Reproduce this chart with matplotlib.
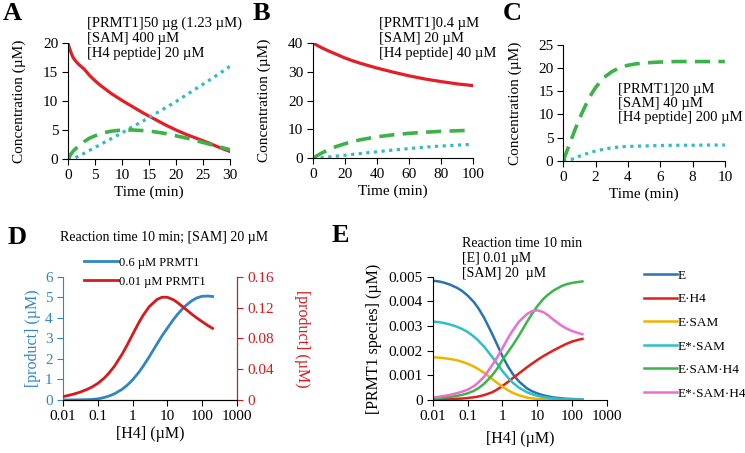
import numpy as np
import matplotlib
matplotlib.use("Agg")
import matplotlib.pyplot as plt
from matplotlib.ticker import FixedLocator, FixedFormatter

plt.rcParams['font.family'] = ['Liberation Serif', 'DejaVu Serif']

# ── Panel A ─────────────────────────────────────────────────────────
a_t = [0, 0.25, 0.5, 0.75, 1, 1.5, 2, 2.5, 3, 4, 5, 6, 7, 8, 9, 10, 12, 14, 16, 18, 20,
       22, 24, 26, 28, 30]
a_red = [20, 19.2, 18.5, 17.9, 17.4, 16.8, 16.3, 15.9, 15.5, 14.4, 13.5, 12.7, 12.0, 11.3,
         10.7, 10.1, 9.0, 7.9, 6.9, 5.9, 5.0, 4.2, 3.5, 2.8, 2.0, 1.3]
a_t_g = [0, 0.5, 1, 2, 3, 4, 5, 6, 8, 10, 12, 14, 16, 18, 20, 22, 24, 26, 28, 30]
a_green = [0, 0.8, 1.4, 2.3, 3.0, 3.6, 4.0, 4.4, 4.8, 5.0, 5.0, 4.9, 4.7, 4.4, 4.0, 3.6,
           3.1, 2.6, 2.1, 1.6]
a_t_c = [0, 1, 2, 4, 6, 8, 10, 12, 14, 16, 18, 20, 22, 24, 26, 28, 30]
a_cyan = [0, 0.05, 0.5, 1.5, 2.5, 3.5, 4.5, 5.6, 6.6, 7.7, 8.8, 9.9, 11.1, 12.3, 13.5, 14.7, 16.0]

# ── Panel B ─────────────────────────────────────────────────────────
b_t = [0, 5, 10, 15, 20, 25, 30, 40, 50, 60, 70, 80, 90, 100]
b_red = [40, 38.5, 37.2, 36.0, 34.8, 33.8, 32.9, 31.3, 29.9, 28.6, 27.5, 26.6, 25.8, 25.2]
b_green = [0, 1.6, 3.0, 4.1, 5.0, 5.8, 6.4, 7.4, 8.1, 8.6, 9.0, 9.3, 9.5, 9.7]
b_cyan = [0, 0.15, 0.4, 0.7, 1.0, 1.3, 1.6, 2.2, 2.8, 3.3, 3.8, 4.2, 4.5, 4.8]

# ── Panel C ─────────────────────────────────────────────────────────
c_t = [0, 0.25, 0.5, 0.75, 1, 1.25, 1.5, 1.75, 2, 2.5, 3, 3.5, 4, 4.5, 5, 6, 7, 8, 9, 10]
c_green = [0, 2.3, 4.6, 6.9, 9.0, 11.0, 12.8, 14.4, 15.8, 17.9, 19.2, 20.1, 20.6, 20.9,
           21.1, 21.3, 21.4, 21.4, 21.4, 21.4]
c_cyan = [0, 0.1, 0.3, 0.6, 1.0, 1.3, 1.6, 1.9, 2.1, 2.5, 2.8, 3.0, 3.1, 3.15, 3.2, 3.3,
          3.35, 3.35, 3.4, 3.4]

# ── Panel D ─────────────────────────────────────────────────────────
h4 = [0.01, 0.015, 0.02, 0.03, 0.05, 0.07, 0.1, 0.15, 0.2, 0.3, 0.5, 0.7, 1, 1.5, 2, 3, 5,
      7, 10, 15, 20, 30, 50, 70, 100, 150, 200]
d_blue = [0, 0.002, 0.004, 0.008, 0.018, 0.03, 0.057, 0.12, 0.18, 0.30, 0.52, 0.72, 0.98,
          1.34, 1.64, 2.10, 2.72, 3.12, 3.5, 3.92, 4.19, 4.52, 4.83, 4.97, 5.05, 5.06, 5.04]
d_red = [0.0043, 0.0062, 0.0076, 0.0100, 0.0139, 0.0172, 0.0216, 0.0281, 0.0339, 0.0438,
         0.0595, 0.0715, 0.0851, 0.1002, 0.1099, 0.1211, 0.1305, 0.1334, 0.1334, 0.1301,
         0.1262, 0.1198, 0.1116, 0.1066, 0.1017, 0.0964, 0.0930]
d_labels = ["0.6 µM PRMT1", "0.01 µM PRMT1"]

# ── Panel E ─────────────────────────────────────────────────────────
e_E = [0.00484, 0.00481, 0.00477, 0.00469, 0.00455, 0.00442, 0.00424, 0.00398, 0.00374,
       0.00333, 0.0027, 0.00226, 0.00178, 0.00132, 0.00105, 0.00075, 0.00048, 0.00036,
       0.00027, 0.00019, 0.00015, 0.0001, 0.00007, 0.00005, 0.00004, 0.00003, 0.00002]
e_EH4 = [0.00002, 0.000025, 0.00003, 0.00004, 0.00005, 0.00006, 0.00008, 0.00011, 0.00014,
         0.0002, 0.00031, 0.00042, 0.00057, 0.00075, 0.00089, 0.00108, 0.00132, 0.00147,
         0.00162, 0.00178, 0.00188, 0.00202, 0.00218, 0.00228, 0.00237, 0.00244, 0.00248]
e_ESAM = [0.00173, 0.00172, 0.0017, 0.00167, 0.00161, 0.00155, 0.00147, 0.00136, 0.00126,
          0.0011, 0.00086, 0.0007, 0.00054, 0.00038, 0.00029, 0.00019, 0.0001, 0.00007,
          0.00004, 0.00003, 0.00002, 0.00001, 0.00001, 0, 0, 0, 0]
e_EsSAM = [0.00318, 0.00316, 0.00313, 0.00307, 0.00297, 0.00288, 0.00276, 0.00258, 0.00242,
           0.00216, 0.00176, 0.00148, 0.00118, 0.00088, 0.0007, 0.0005, 0.00032, 0.00024,
           0.00017, 0.00012, 0.00009, 0.00006, 0.00004, 0.00003, 0.00002, 0.00002, 0.00001]
e_ESAMH4 = [0.00007, 0.00008, 0.0001, 0.00012, 0.00017, 0.00021, 0.00027, 0.00037, 0.00047,
            0.00066, 0.00099, 0.00126, 0.00162, 0.00198, 0.00223, 0.00262, 0.00315, 0.00348,
            0.0038, 0.0041, 0.00426, 0.00445, 0.00462, 0.0047, 0.00475, 0.00479, 0.00481]
e_EsSAMH4 = [0.0001, 0.00013, 0.00016, 0.0002, 0.00028, 0.00034, 0.00042, 0.00056, 0.0007,
             0.00095, 0.0014, 0.00172, 0.0021, 0.00255, 0.00283, 0.00318, 0.00348, 0.0036,
             0.00364, 0.00357, 0.00345, 0.00325, 0.00302, 0.0029, 0.0028, 0.00272, 0.00267]
e_names = ["E", "E·H4", "E·SAM", "E*·SAM", "E·SAM·H4", "E*·SAM·H4"]
e_colors = ["#2a72b0", "#e0201b", "#f0b400", "#2cc0c9", "#3bb44a", "#ea6fd2"]

RED = "#e41e26"
GREEN = "#3cb34a"
CYAN = "#33bbc5"
D_BLUE = "#2f86c0"
D_RED = "#d7191c"

log_ticks = [0.01, 0.1, 1, 10, 100, 1000]
log_labels = ["0.01", "0.1", "1", "10", "100", "1000"]

fig = plt.figure(figsize=(7.45, 4.53), dpi=100, facecolor="white")


def style(ax, fs=11):
    for s in ("top", "right"):
        ax.spines[s].set_visible(False)
    ax.tick_params(direction="out", length=4, labelsize=fs, pad=3)


def log_x(ax):
    ax.set_xscale("log")
    ax.set_xlim(0.01, 1000)
    ax.xaxis.set_major_locator(FixedLocator(log_ticks))
    ax.xaxis.set_major_formatter(FixedFormatter(log_labels))
    ax.xaxis.set_minor_locator(FixedLocator([]))


def top_panel(rect, xlim, xticks, ylim, yticks):
    ax = fig.add_axes(rect)
    style(ax)
    ax.set_xlim(*xlim)
    ax.set_ylim(*ylim)
    ax.set_xticks(xticks)
    ax.set_yticks(yticks)
    ax.set_xlabel("Time (min)", fontsize=11, labelpad=3)
    ax.set_ylabel("Concentration (µM)", fontsize=11, labelpad=12)
    return ax


dash = (0, (4.2, 2.3))
dots = (0, (1, 1.4))
txt = dict(fontsize=10.5, va="top", ha="left")

# ── A ──
axA = top_panel([0.0913, 0.649, 0.2174, 0.256], (0, 30), range(0, 31, 5),
                (0, 20), range(0, 21, 5))
axA.plot(a_t, a_red, color=RED, lw=2.3)
axA.plot(a_t_c, a_cyan, color=CYAN, lw=2.3, linestyle=dots)
axA.plot(a_t_g, a_green, color=GREEN, lw=2.6, linestyle=dash)
fig.text(87 / 745, 1 - 17 / 453, "[PRMT1]50 µg (1.23 µM)\n[SAM] 400 µM\n[H4 peptide] 20 µM",
         linespacing=1.2, **txt)

# ── B ──
axB = top_panel([0.420, 0.651, 0.215, 0.254], (0, 100), range(0, 101, 20),
                (0, 40), range(0, 41, 10))
axB.plot(b_t, b_red, color=RED, lw=2.3)
axB.plot(b_t, b_cyan, color=CYAN, lw=2.3, linestyle=dots)
axB.plot(b_t, b_green, color=GREEN, lw=2.6, linestyle=dash)
fig.text(379 / 745, 1 - 17 / 453, "[PRMT1]0.4 µM\n[SAM] 20 µM\n[H4 peptide] 40 µM",
         linespacing=1.2, **txt)

# ── C ──
axC = top_panel([0.756, 0.645, 0.217, 0.256], (0, 10), range(0, 11, 2),
                (0, 25), range(0, 26, 5))
axC.plot(c_t, c_cyan, color=CYAN, lw=2.3, linestyle=dots)
axC.plot(c_t, c_green, color=GREEN, lw=2.6, linestyle=dash)
fig.text(618 / 745, 1 - 83 / 453, "[PRMT1]20 µM\n[SAM] 40 µM\n[H4 peptide] 200 µM",
         linespacing=1.12, **txt)

for letter, x in (("A", 3), ("B", 253), ("C", 503)):
    fig.text(x / 745, 1 - 2 / 453, letter, fontsize=19, fontweight="bold", va="top", ha="left")

# ── D ──
axD = fig.add_axes([0.0846, 0.117, 0.2334, 0.272])
log_x(axD)
axD.set_ylim(0, 6)
axD.spines["top"].set_visible(False)
axD.spines["left"].set_color(D_BLUE)
axD.tick_params(axis="y", colors=D_BLUE, direction="out", length=4, labelsize=11)
axD.tick_params(axis="x", direction="out", length=4, labelsize=11)
axD.set_yticks(range(0, 7))
axD.set_xlabel("[H4] (µM)", fontsize=11.5, labelpad=2)
axD.set_ylabel("[product] (µM)", fontsize=11.5, color=D_BLUE, labelpad=3)
l1, = axD.plot(h4, d_blue, color=D_BLUE, lw=2)

axD2 = axD.twinx()
axD2.set_ylim(0, 0.16)
axD2.set_yticks([0, 0.04, 0.08, 0.12, 0.16])
axD2.set_yticklabels(["0", "0.04", "0.08", "0.12", "0.16"])
axD2.spines["top"].set_visible(False)
axD2.spines["left"].set_visible(False)
axD2.spines["right"].set_color(D_RED)
axD2.tick_params(axis="y", colors=D_RED, direction="out", length=4, labelsize=11)
axD2.set_ylabel("[product] (µM)", fontsize=11.5, color=D_RED, rotation=270, labelpad=26)
l2, = axD2.plot(h4, d_red, color=D_RED, lw=2)

fig.legend([l1, l2], d_labels, loc="upper left", bbox_to_anchor=(0.113, 0.433),
           frameon=False, fontsize=9, handlelength=2.7, handletextpad=0.1,
           labelspacing=0.55, borderpad=0, borderaxespad=0)
fig.text(8 / 745, 1 - 226 / 453, "D", fontsize=19, fontweight="bold", va="top", ha="left")
fig.text(164 / 745, 1 - 231 / 453, "Reaction time 10 min; [SAM] 20 µM", fontsize=10,
         va="top", ha="center")

# ── E ──
axE = fig.add_axes([0.581, 0.117, 0.2334, 0.272])
log_x(axE)
axE.set_ylim(0, 0.005)
style(axE, fs=11)
axE.set_yticks([0, 0.001, 0.002, 0.003, 0.004, 0.005])
axE.set_yticklabels(["0", "0.001", "0.002", "0.003", "0.004", "0.005"])
axE.set_xlabel("[H4] (µM)", fontsize=11.5, labelpad=6)
axE.set_ylabel("[PRMT1 species] (µM)", fontsize=11.5, labelpad=5)
e_series = [e_E, e_EH4, e_ESAM, e_EsSAM, e_ESAMH4, e_EsSAMH4]
handles = []
for vals, col in zip(e_series, e_colors):
    h, = axE.plot(h4, vals, color=col, lw=1.8)
    handles.append(h)
fig.legend(handles, e_names, loc="upper left", bbox_to_anchor=(0.864, 0.405),
           frameon=False, fontsize=9.5, handlelength=2.5, handletextpad=0.1,
           labelspacing=0.86, borderpad=0, borderaxespad=0)
fig.text(332 / 745, 1 - 224 / 453, "E", fontsize=19, fontweight="bold", va="top", ha="left")
fig.text(462 / 745, 1 - 237 / 453, "Reaction time 10 min\n[E] 0.01 µM\n[SAM] 20  µM",
         fontsize=10, va="top", ha="left", linespacing=1.2)

fig.savefig("out.png", dpi=100, facecolor="white")
